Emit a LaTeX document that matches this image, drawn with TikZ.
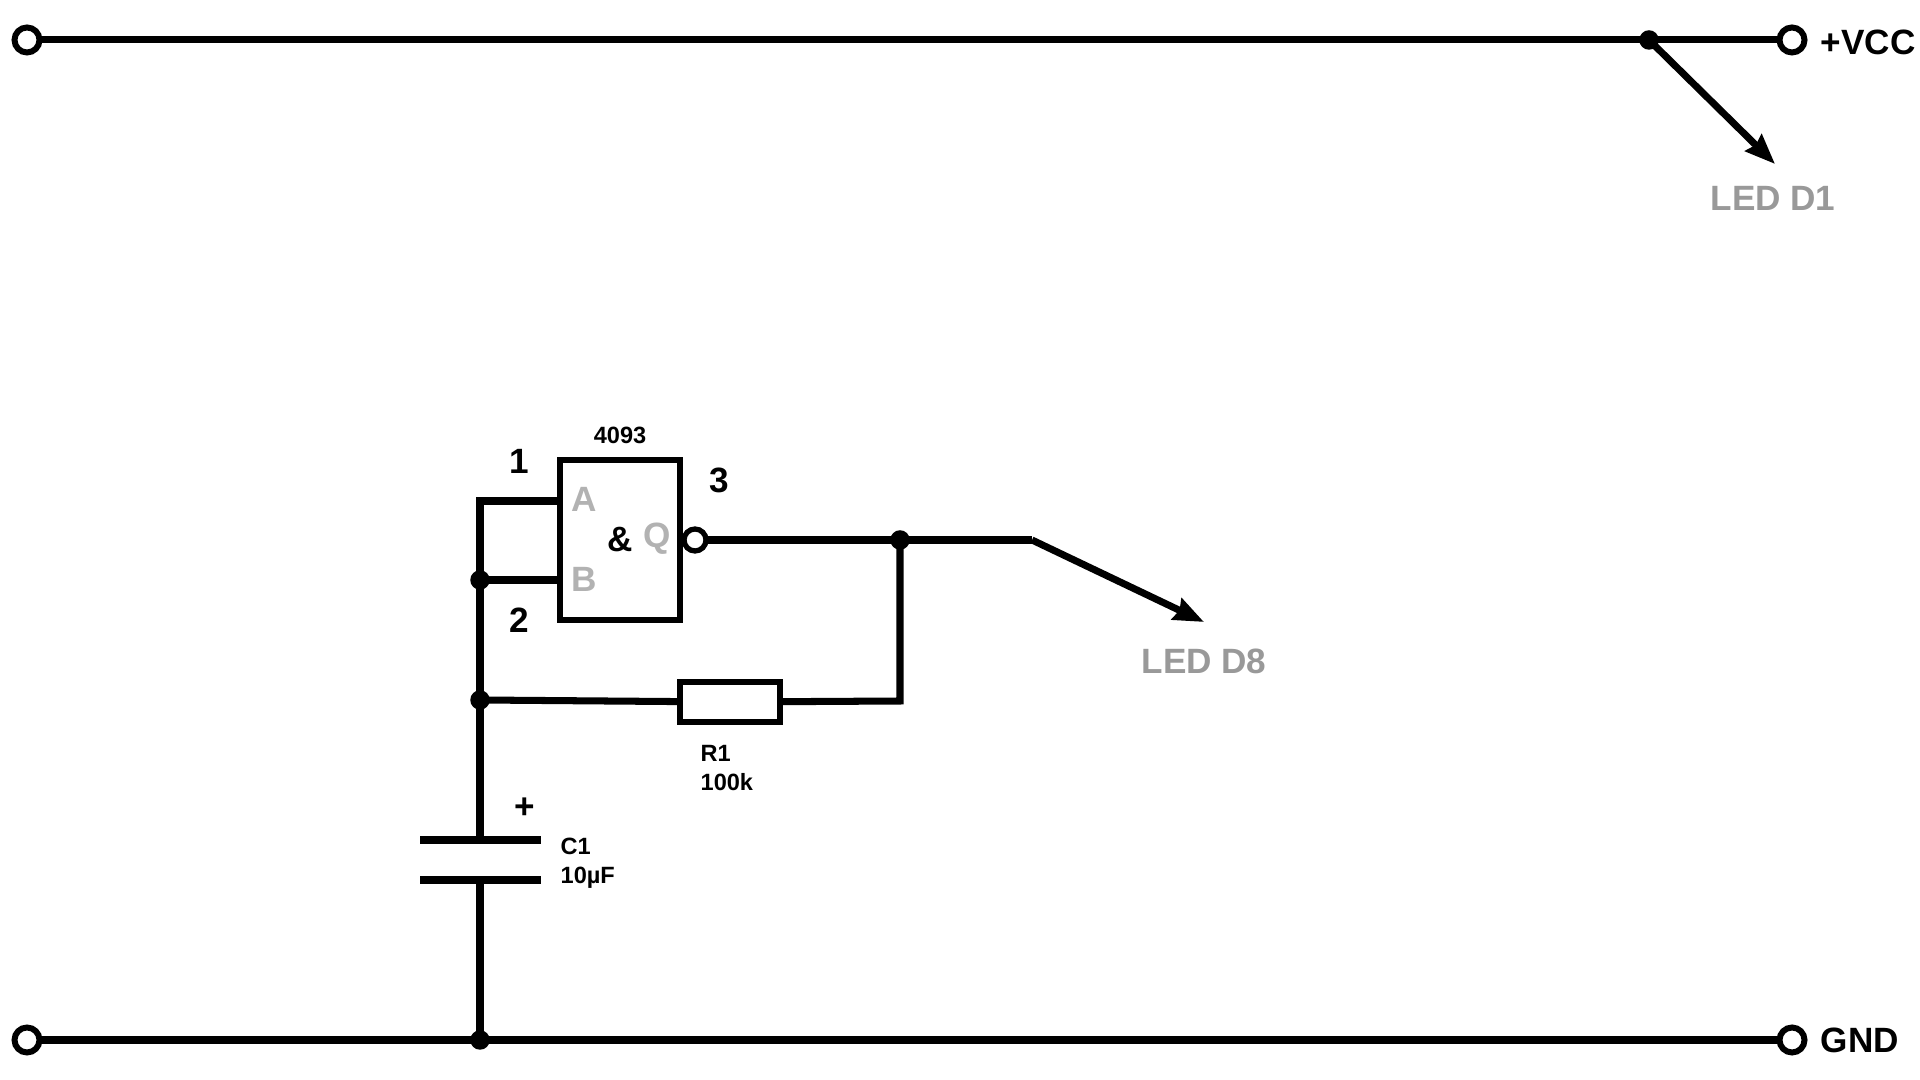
\documentclass[tikz,border=0pt]{standalone}
\usepackage{fontspec}
\setmainfont{Liberation Sans}
\usetikzlibrary{arrows.meta}
\definecolor{pingray}{HTML}{B2B2B2}
\definecolor{ledgray}{HTML}{999999}
\tikzset{
  wire/.style={line width=2pt},
  lead/.style={wire, -{Stealth[length=3mm, width=2.3mm, inset=0.3mm]}},
  terminal/.style={circle, draw, fill=white, line width=1.7pt, inner sep=0, outer sep=0, minimum size=2.5mm},
  junction/.style={circle, fill=black, inner sep=0, outer sep=0, minimum size=1.95mm},
  part/.style={rectangle, draw, line width=1.9pt, inner sep=0, outer sep=0},
  biglabel/.style={inner sep=0, font=\fontsize{10}{11}\selectfont\bfseries},
  smalllabel/.style={inner sep=0, align=left, font=\fontsize{6.7}{8.25}\selectfont\bfseries},
  pinlabel/.style={biglabel, text=pingray},
  ledlabel/.style={biglabel, text=ledgray}
}

\begin{document}
\begin{tikzpicture}
  \useasboundingbox (0, 0) rectangle (19.2, 10.8);

  % rails
  \node[terminal] at (0.27, 10.4) (vccleft) {};
  \node[terminal] at (17.92, 10.4) (vccright) {};
  \node[junction] at (16.49, 10.4) (vccdot) {};
  \node[terminal] at (0.27, 0.4) (gndleft) {};
  \node[terminal] at (17.92, 0.4) (gndright) {};
  \node[junction] at (4.8, 0.4) (gnddot) {};
  \draw[wire] (vccleft) -- (vccdot.center) -- (vccright);
  \draw[wire] (gndleft) -- (gnddot.center) -- (gndright);
  \node[biglabel, anchor=west] at (18.2, 10.38) (vcclabel) {+VCC};
  \node[biglabel, anchor=west] at (18.2, 0.4) (gndlabel) {GND};

  % gate
  \node[part, minimum width=12mm, minimum height=16mm] at (6.2, 5.4) (gate) {};
  \node[terminal, line width=1.5pt, minimum size=2.2mm] at (6.95, 5.4) (bubble) {};
  \coordinate (pina) at (5.6, 5.79);
  \coordinate (pinb) at (5.6, 5.0);
  \coordinate (bend) at (4.8, 5.79);
  \node[junction] at (4.8, 5.0) (bdot) {};
  \node[junction] at (4.8, 3.8) (rdot) {};
  \node[junction] at (9.0, 5.4) (outdot) {};
  \draw[wire] (pina) -- (bend) -- (bdot.center) -- (rdot.center);
  \draw[wire] (bdot.center) -- (pinb);
  \node[pinlabel] at (5.84, 5.81) (alabel) {A};
  \node[pinlabel] at (5.84, 5.01) (blabel) {B};
  \node[pinlabel] at (6.57, 5.41) (qlabel) {Q};
  \node[biglabel] at (6.2, 5.4) (andlabel) {\&};
  \node[smalllabel] at (6.2, 6.45) (gatelabel) {4093};
  \node[biglabel] at (5.19, 6.19) (pinone) {1};
  \node[biglabel] at (5.19, 4.6) (pintwo) {2};
  \node[biglabel] at (7.19, 6.0) (pinthree) {3};

  % resistor
  \node[part, minimum width=10mm, minimum height=4mm] at (7.3, 3.78) (res) {};
  \coordinate (resbend) at (9.0, 3.79);
  \draw[wire] (rdot.center) -- (res);
  \draw[wire] (res) -- (resbend) -- (outdot.center);
  \draw[wire] (bubble) -- (outdot.center);
  \node[smalllabel, anchor=west] at (7.0, 3.12) (reslabel) {R1\\100k};

  % capacitor
  \coordinate (capa) at (4.8, 2.4);
  \coordinate (capb) at (4.8, 2.0);
  \draw[wire] (rdot.center) -- (capa);
  \draw[wire] (capb) -- (gnddot.center);
  \draw[wire] (4.2, 2.4) -- (5.41, 2.4);
  \draw[wire] (4.2, 2.0) -- (5.41, 2.0);
  \node[biglabel] at (5.25, 2.72) (pluslabel) {+};
  \node[smalllabel, anchor=west] at (5.6, 2.17) (caplabel) {C1\\10µF};

  % leads to the leds
  \coordinate (tipone) at (17.75, 9.16);
  \coordinate (outbend) at (10.32, 5.4);
  \coordinate (tipeight) at (12.04, 4.58);
  \draw[lead] (vccdot.center) -- (tipone);
  \draw[wire] (outdot.center) -- (outbend);
  \draw[lead] (outbend) -- (tipeight);
  \node[ledlabel] at (17.73, 8.82) (ledone) {LED D1};
  \node[ledlabel] at (12.04, 4.19) (ledeight) {LED D8};
\end{tikzpicture}
\end{document}
